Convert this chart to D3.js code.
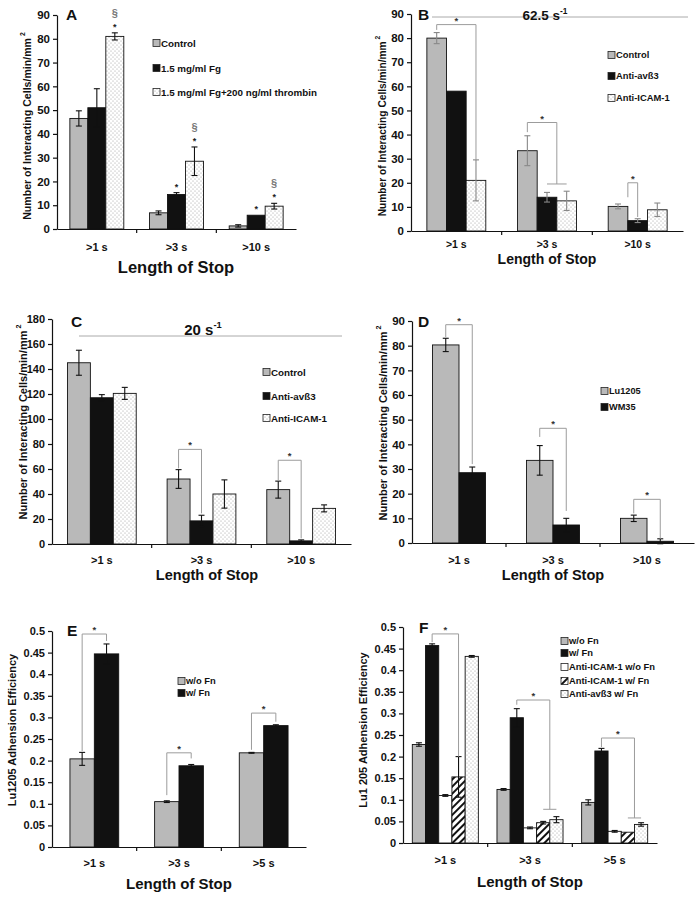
<!DOCTYPE html>
<html><head><meta charset="utf-8">
<script src="https://cdn.jsdelivr.net/npm/d3@7"></script>
<style>
body{margin:0;background:#fff}
svg{display:block}
text{font-family:"Liberation Sans",Arial,sans-serif;font-weight:bold;fill:#111}
</style>
</head><body>
<svg id="c" width="699" height="897"></svg>
<script>
// ---------------- DATA ----------------
// Panel A
const catsA = [">1 s", ">3 s", ">10 s"];
const namesA = ["Control", "1.5 mg/ml Fg", "1.5 mg/ml Fg+200 ng/ml thrombin"];
const controlA = [46.5, 6.8, 1.3];
const controlErrA = [3.2, 0.8, 0.5];
const fgA = [51, 14.5, 5.8];
const fgErrA = [8, 0.8, 0];
const thrombinA = [81, 28.5, 9.6];
const thrombinErrA = [1.5, 6, 1.2];
const starsA = [[0, 2], [1, 1], [1, 2], [2, 1], [2, 2]];   // [category, series]
const sectionA = [[0, 2], [1, 2], [2, 2]];
const ticksA = [0, 10, 20, 30, 40, 50, 60, 70, 80, 90];

// Panel B
const catsB = [">1 s", ">3 s", ">10 s"];
const namesB = ["Control", "Anti-av\u00df3", "Anti-ICAM-1"];
const controlB = [80, 33.3, 10.2];
const controlErrB = [2.3, 6.2, 1.0];
const avb3B = [58, 14, 4.3];
const avb3ErrB = [0, 2, 0.8];
const icamB = [21, 12.5, 8.8];
const icamErrB = [8.5, 4, 2.8];
// [category, left series slot, right series slot, left start, top, right end, cap from slot, cap to slot]
const bracketsB = [[0, 0, 2, 83.4, 85.6, 29.5], [1, 0, 1.5, 41, 45, 19.5, 1, 2], [2, 0.5, 1, 14, 20, 5.8]];
const ticksB = [0, 10, 20, 30, 40, 50, 60, 70, 80, 90];

// Panel C
const catsC = [">1 s", ">3 s", ">10 s"];
const namesC = ["Control", "Anti-av\u00df3", "Anti-ICAM-1"];
const controlC = [145, 52, 43.5];
const controlErrC = [10, 7.5, 6.8];
const avb3C = [117, 18.5, 2.5];
const avb3ErrC = [2.5, 4.5, 0.8];
const icamC = [120.5, 40, 28.5];
const icamErrC = [4.8, 11.3, 2.8];
const bracketsC = [[1, 0, 1, 60.5, 75.7, 24.5], [2, 0, 1, 51, 67, 4.5]];
const ticksC = [0, 20, 40, 60, 80, 100, 120, 140, 160, 180];

// Panel D
const catsD = [">1 s", ">3 s", ">10 s"];
const namesD = ["Lu1205", "WM35"];
const lu1205D = [80.3, 33.5, 10];
const lu1205ErrD = [2.7, 6, 1.3];
const wm35D = [28.5, 7.3, 0.7];
const wm35ErrD = [2.3, 2.7, 1.0];
const bracketsD = [[0, 0, 1, 83.5, 88.5, 32], [1, 0, 1, 43, 46.5, 13], [2, 0, 1, 12, 17.7, 1.7]];
const ticksD = [0, 10, 20, 30, 40, 50, 60, 70, 80, 90];

// Panel E
const catsE = [">1 s", ">3 s", ">5 s"];
const namesE = ["w/o Fn", "w/ Fn"];
const woFnE = [0.204, 0.105, 0.218];
const woFnErrE = [0.015, 0.002, 0.001];
const wFnE = [0.447, 0.188, 0.281];
const wFnErrE = [0.023, 0.003, 0.002];
const bracketsE = [[0, 0, 1, 0.222, 0.493, 0.477], [1, 0, 1, 0.12, 0.218, 0.205], [2, 0, 1, 0.225, 0.31, 0.29]];
const ticksE = [0, 0.05, 0.1, 0.15, 0.2, 0.25, 0.3, 0.35, 0.4, 0.45, 0.5];
const tickLabelsE = ["0", "0.05", "0.1", "0.15", "0.2", "0.25", "0.3", "0.35", "0.4", "0.45", "0.5"];

// Panel F
const catsF = [">1 s", ">3 s", ">5 s"];
const namesF = ["w/o Fn", "w/ Fn", "Anti-ICAM-1 w/o Fn", "Anti-ICAM-1 w/ Fn", "Anti-av\u00df3 w/ Fn"];
const woFnF = [0.228, 0.124, 0.094];
const woFnErrF = [0.004, 0.002, 0.006];
const wFnF = [0.457, 0.29, 0.213];
const wFnErrF = [0.004, 0.021, 0.006];
const icamWoFnF = [0.11, 0.035, 0.027];
const icamWoFnErrF = [0.002, 0.002, 0.002];
const icamWFnF = [0.153, 0.047, 0.025];
const icamWFnErrF = [0.047, 0.003, 0];
const avb3WFnF = [0.432, 0.054, 0.043];
const avb3WFnErrF = [0.002, 0.007, 0.004];
const bracketsF = [[0, 1, 3, 0.465, 0.484, 0.2], [1, 1, 3.5, 0.32, 0.331, 0.078, 3, 4], [2, 1, 3.5, 0.222, 0.243, 0.058, 3, 4]];
const ticksF = ticksE;
const tickLabelsF = tickLabelsE;

// ---------------- DRAWING ----------------
const svg = d3.select("#c");
const defs = svg.append("defs");
const dots = defs.append("pattern").attr("id", "dots").attr("patternUnits", "userSpaceOnUse")
  .attr("width", 4).attr("height", 4);
dots.append("rect").attr("width", 4).attr("height", 4).attr("fill", "#fff");
dots.append("circle").attr("cx", 1).attr("cy", 1).attr("r", 0.55).attr("fill", "#9a9a9a");
dots.append("circle").attr("cx", 3).attr("cy", 3).attr("r", 0.55).attr("fill", "#9a9a9a");
const hatch = defs.append("pattern").attr("id", "hatch").attr("patternUnits", "userSpaceOnUse")
  .attr("width", 5).attr("height", 5).attr("patternTransform", "rotate(45)");
hatch.append("rect").attr("width", 5).attr("height", 5).attr("fill", "#fff");
hatch.append("line").attr("x1", 1).attr("y1", 0).attr("x2", 1).attr("y2", 5)
  .attr("stroke", "#111").attr("stroke-width", 2);

const GRAY = "#b9b9b9", BLACK = "#111";

function panel(c) {
  const g = svg.append("g");
  const x = d3.scaleBand().domain(c.cats).range([c.x0, c.x1]).paddingInner(c.pad).paddingOuter(c.pad / 2);
  const sub = d3.scaleBand().domain(d3.range(c.series.length)).range([0, x.bandwidth()]);
  const y = d3.scaleLinear().domain([0, c.max]).range([c.y0, c.yTop]);
  const slotX = (ci, s) => x(c.cats[ci]) + (s + 0.5) * sub.bandwidth();

  if (c.title) {
    g.append("line").attr("x1", c.title.lx1).attr("x2", c.title.lx2).attr("y1", c.title.ly).attr("y2", c.title.ly)
      .attr("stroke", "#aaa").attr("stroke-width", 1);
    const t = g.append("text").attr("x", c.title.x).attr("y", c.title.y).attr("text-anchor", "middle")
      .attr("font-size", c.title.fs);
    t.append("tspan").text(c.title.text);
    t.append("tspan").attr("dy", -c.title.fs * 0.45).attr("font-size", c.title.fs * 0.62).text("-1");
  }

  c.series.forEach((s, si) => {
    g.append("g").selectAll("rect").data(s.vals).join("rect")
      .attr("x", (d, i) => x(c.cats[i]) + sub(si))
      .attr("y", d => y(d))
      .attr("width", sub.bandwidth())
      .attr("height", d => y(0) - y(d))
      .attr("fill", s.fill).attr("stroke", "#111").attr("stroke-width", 0.9);
  });
  c.series.forEach((s, si) => {
    s.vals.forEach((v, i) => {
      const e = s.errs[i];
      if (!e) return;
      const cx = slotX(i, si);
      const eg = g.append("g").attr("stroke", c.errColor).attr("stroke-width", 1.1);
      eg.append("line").attr("x1", cx).attr("x2", cx).attr("y1", y(v - e)).attr("y2", y(v + e));
      [v - e, v + e].forEach(w => eg.append("line").attr("x1", cx - 3).attr("x2", cx + 3).attr("y1", y(w)).attr("y2", y(w)));
    });
  });

  (c.brackets || []).forEach(b => {
    const [ci, ls, rs, ys, yt, ye, c1, c2] = b;
    const lx = slotX(ci, ls), rx = slotX(ci, rs);
    g.append("path")
      .attr("d", `M${lx},${y(ys)}V${y(yt)}H${rx}V${y(ye)}`)
      .attr("fill", "none").attr("stroke", "#9c9c9c").attr("stroke-width", 1);
    if (c1 !== undefined) {
      g.append("line").attr("x1", slotX(ci, c1)).attr("x2", slotX(ci, c2)).attr("y1", y(ye)).attr("y2", y(ye))
        .attr("stroke", "#9c9c9c").attr("stroke-width", 1);
    }
    g.append("text").attr("x", (lx + rx) / 2).attr("y", y(yt) - 1).attr("text-anchor", "middle")
      .attr("font-size", 9.5).style("fill", "#333").text("*");
  });

  (c.stars || []).forEach(([ci, si]) => {
    const s = c.series[si];
    g.append("text").attr("x", slotX(ci, si)).attr("y", y(s.vals[ci] + s.errs[ci]) - 3).attr("text-anchor", "middle")
      .attr("font-size", 9).style("fill", "#222").text("*");
  });
  (c.sections || []).forEach(([ci, si]) => {
    const s = c.series[si];
    g.append("text").attr("x", slotX(ci, si)).attr("y", y(s.vals[ci] + s.errs[ci]) - 16).attr("text-anchor", "middle")
      .attr("font-size", 11).attr("font-weight", "normal").style("fill", "#777").text("\u00a7");
  });

  const ya = g.append("g").attr("transform", `translate(${c.x0},0)`)
    .call(d3.axisLeft(y).tickValues(c.ticks).tickSize(4).tickSizeOuter(0).tickPadding(3)
      .tickFormat((d, i) => c.tickLabels ? c.tickLabels[i] : d));
  ya.selectAll("text").attr("font-size", c.tickFs).attr("font-family", null).style("fill", "#111");
  ya.selectAll("line, path").attr("stroke", "#111").attr("stroke-width", 1.2);

  const xa = g.append("g").attr("transform", `translate(0,${c.y0})`)
    .call(d3.axisBottom(x).tickSize(0).tickSizeOuter(0));
  xa.select(".domain").attr("stroke", "#111").attr("stroke-width", 1.2);
  xa.selectAll("text").attr("y", c.catY - c.y0).attr("dy", "0.35em").attr("font-size", c.catFs)
    .attr("font-family", null).style("fill", "#111");
  const step = x.step();
  for (let i = 1; i < c.cats.length; i++) {
    const bx = x(c.cats[i]) - step * c.pad / 2;
    g.append("line").attr("x1", bx).attr("x2", bx).attr("y1", c.y0).attr("y2", c.y0 + 4)
      .attr("stroke", "#111").attr("stroke-width", 1.2);
  }

  g.append("text").attr("x", c.xTitle.x).attr("y", c.xTitle.y).attr("dy", "0.35em").attr("text-anchor", "middle")
    .attr("font-size", c.xTitle.fs).text("Length of Stop");
  const yt = g.append("text").attr("transform", `translate(${c.yTitle.x},${c.yTitle.y}) rotate(-90)`)
    .attr("text-anchor", "middle").attr("dy", "0.35em").attr("font-size", c.yTitle.fs);
  yt.append("tspan").text(c.yTitle.text);
  if (c.yTitle.sup) yt.append("tspan").attr("dy", -c.yTitle.fs * 0.5).attr("dx", 2).attr("font-size", c.yTitle.fs * 0.65).text(c.yTitle.sup);

  g.append("text").attr("x", c.letter.x).attr("y", c.letter.y).attr("font-size", 15.5).text(c.letter.t);

  const lg = g.append("g");
  c.series.forEach((s, si) => {
    const ly = c.legend.ys[si];
    lg.append("rect").attr("x", c.legend.x).attr("y", ly - 3.5).attr("width", 7).attr("height", 7)
      .attr("fill", s.fill).attr("stroke", "#222").attr("stroke-width", 0.8);
    lg.append("text").attr("x", c.legend.x + 8).attr("y", ly).attr("dy", "0.36em")
      .attr("font-size", c.legend.fs).text(s.name);
  });
}

const mmTitle = "Number of Interacting Cells/min/mm";

panel({
  cats: catsA, x0: 57, x1: 296, y0: 229, yTop: 15, max: 90, pad: 0.323, ticks: ticksA, tickFs: 11.5,
  catY: 247, catFs: 11, errColor: "#111",
  series: [
    { name: namesA[0], vals: controlA, errs: controlErrA, fill: GRAY },
    { name: namesA[1], vals: fgA, errs: fgErrA, fill: BLACK },
    { name: namesA[2], vals: thrombinA, errs: thrombinErrA, fill: "url(#dots)" }
  ],
  stars: starsA, sections: sectionA,
  xTitle: { x: 176, y: 267, fs: 16.5 }, yTitle: { x: 27, y: 126, fs: 10.6, text: mmTitle, sup: "2" },
  letter: { x: 66, y: 20, t: "A" }, legend: { x: 153, ys: [43, 68, 92], fs: 9.8 }
});

panel({
  cats: catsB, x0: 411, x1: 683, y0: 231, yTop: 14, max: 90, pad: 0.35, ticks: ticksB, tickFs: 11.5,
  catY: 244, catFs: 10.5, errColor: "#888",
  series: [
    { name: namesB[0], vals: controlB, errs: controlErrB, fill: GRAY },
    { name: namesB[1], vals: avb3B, errs: avb3ErrB, fill: BLACK },
    { name: namesB[2], vals: icamB, errs: icamErrB, fill: "url(#dots)" }
  ],
  brackets: bracketsB,
  title: { text: "62.5 s", x: 545, y: 20, fs: 13.5, lx1: 432, lx2: 688, ly: 17 },
  xTitle: { x: 547, y: 259.5, fs: 14 }, yTitle: { x: 382, y: 126, fs: 10.2, text: mmTitle, sup: "2" },
  letter: { x: 418, y: 20, t: "B" }, legend: { x: 608, ys: [55, 76, 98], fs: 9.4 }
});

panel({
  cats: catsC, x0: 52, x1: 351, y0: 544, yTop: 319, max: 180, pad: 0.31, ticks: ticksC, tickFs: 11,
  catY: 560, catFs: 11, errColor: "#111",
  series: [
    { name: namesC[0], vals: controlC, errs: controlErrC, fill: GRAY },
    { name: namesC[1], vals: avb3C, errs: avb3ErrC, fill: BLACK },
    { name: namesC[2], vals: icamC, errs: icamErrC, fill: "url(#dots)" }
  ],
  brackets: bracketsC,
  title: { text: "20 s", x: 203, y: 335, fs: 15, lx1: 79, lx2: 342, ly: 336 },
  xTitle: { x: 207, y: 575, fs: 14.5 }, yTitle: { x: 23, y: 422, fs: 11, text: mmTitle, sup: "2" },
  letter: { x: 71, y: 327, t: "C" }, legend: { x: 263, ys: [372, 396, 418], fs: 9.8 }
});

panel({
  cats: catsD, x0: 412, x1: 694, y0: 543, yTop: 321, max: 90, pad: 0.436, ticks: ticksD, tickFs: 11.5,
  catY: 560, catFs: 11, errColor: "#111",
  series: [
    { name: namesD[0], vals: lu1205D, errs: lu1205ErrD, fill: GRAY },
    { name: namesD[1], vals: wm35D, errs: wm35ErrD, fill: BLACK }
  ],
  brackets: bracketsD,
  xTitle: { x: 553, y: 575, fs: 14.5 }, yTitle: { x: 383, y: 423, fs: 11, text: mmTitle, sup: "2" },
  letter: { x: 418, y: 327, t: "D" }, legend: { x: 601, ys: [391, 407], fs: 9.2 }
});

panel({
  cats: catsE, x0: 52, x1: 306, y0: 847, yTop: 631, max: 0.5, pad: 0.424, ticks: ticksE, tickLabels: tickLabelsE,
  tickFs: 11, catY: 863, catFs: 11, errColor: "#111",
  series: [
    { name: namesE[0], vals: woFnE, errs: woFnErrE, fill: GRAY },
    { name: namesE[1], vals: wFnE, errs: wFnErrE, fill: BLACK }
  ],
  brackets: bracketsE,
  xTitle: { x: 179, y: 884, fs: 15 }, yTitle: { x: 12, y: 730, fs: 11, text: "Lu1205 Adhension Efficiency" },
  letter: { x: 67, y: 636, t: "E" }, legend: { x: 178, ys: [681, 693], fs: 9.4 }
});

panel({
  cats: catsF, x0: 403, x1: 657, y0: 843, yTop: 627, max: 0.5, pad: 0.22, ticks: ticksF, tickLabels: tickLabelsF,
  tickFs: 11, catY: 860, catFs: 11, errColor: "#111",
  series: [
    { name: namesF[0], vals: woFnF, errs: woFnErrF, fill: GRAY },
    { name: namesF[1], vals: wFnF, errs: wFnErrF, fill: BLACK },
    { name: namesF[2], vals: icamWoFnF, errs: icamWoFnErrF, fill: "#fff" },
    { name: namesF[3], vals: icamWFnF, errs: icamWFnErrF, fill: "url(#hatch)" },
    { name: namesF[4], vals: avb3WFnF, errs: avb3WFnErrF, fill: "url(#dots)" }
  ],
  brackets: bracketsF,
  xTitle: { x: 530, y: 882, fs: 15 }, yTitle: { x: 363, y: 730, fs: 11, text: "Lu1 205 Adhension Efficiency" },
  letter: { x: 419, y: 633, t: "F" }, legend: { x: 561, ys: [641, 653, 667, 681, 694], fs: 9.4 }
});
</script>
</body></html>
